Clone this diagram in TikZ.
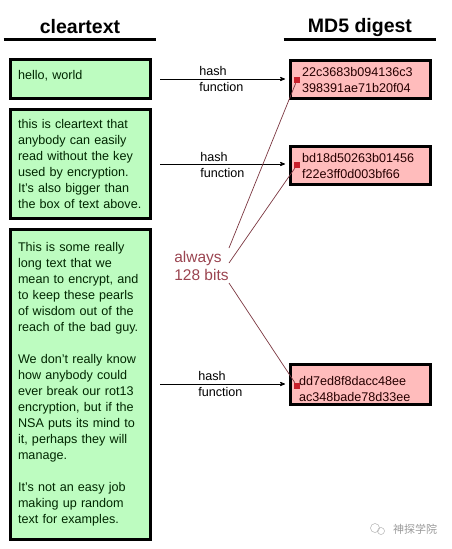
\documentclass[tikz,border=0pt]{standalone}
\usepackage{fontspec}
\setmainfont{Liberation Sans}
\newfontfamily\cjkfont{Noto Sans CJK SC}
\usetikzlibrary{arrows}
\usetikzlibrary{positioning}
\definecolor{cleargreen}{HTML}{BDFCC0}
\definecolor{digestpink}{HTML}{FFBCBC}
\definecolor{spotred}{HTML}{C8202C}
\definecolor{noterose}{HTML}{9A4450}
\tikzset{
    heading/.style={
           font=\bfseries\fontsize{19.5}{22}\selectfont,
           minimum width=152pt,
           minimum height=24pt,
           inner sep=0pt,
           },
    clearbox/.style={
           rectangle,
           draw=black, line width=3pt,
           fill=cleargreen,
           text=black!85!green,
           font=\fontsize{12.6}{16}\selectfont,
           text width=125pt,
           minimum width=140pt,
           inner sep=0pt,
           align=left,
           },
    digestbox/.style={
           clearbox,
           fill=digestpink,
           text=black!85!red,
           text width=117pt,
           minimum height=38pt,
           },
    hashlabel/.style={
           font=\fontsize{12.6}{16}\selectfont,
           align=left,
           inner sep=0pt,
           },
    redspot/.style={
           fill=spotred,
           minimum size=6pt,
           inner sep=0pt,
           },
}

\begin{document}
\begin{tikzpicture}[x=1pt,y=-1pt,>=stealth',semithick]
  \useasboundingbox (0,0) rectangle (451,549);

  \node[heading] (clearhead)                 at (80,27)  {cleartext};
  \node[heading] (digesthead)                at (360,27) {MD5 digest};
  \draw[line width=3pt] (clearhead.south west)  -- (clearhead.south east);
  \draw[line width=3pt] (digesthead.south west) -- (digesthead.south east);

  \node[clearbox,minimum height=39pt,text depth=9pt] (clearA) at (80.5,79) {hello, world};
  \node[clearbox,minimum height=109pt] (clearB) [below=8pt of clearA] {this is cleartext that\\
    anybody can easily\\ read without the key\\ used by encryption.\\
    It's also bigger than\\ the box of text above.};
  \node[clearbox,minimum height=310pt] (clearC) [below=8pt of clearB] {This is some really\\
    long text that we\\ mean to encrypt, and\\ to keep these pearls\\
    of wisdom out of the\\ reach of the bad guy.\\[16pt]
    We don't really know\\ how anybody could\\ ever break our rot13\\
    encryption, but if the\\ NSA puts its mind to\\ it, perhaps they will\\ manage.\\[16pt]
    It's not an easy job\\ making up random\\ text for examples.};

  \node[digestbox] (digestA) at (360.5,79.5) {22c3683b094136c3\\ 398391ae71b20f04};
  \node[digestbox] (digestB) [below=45pt of digestA]  {bd18d50263b01456\\ f22e3ff0d003bf66};
  \node[digestbox,minimum height=40pt,text width=123pt,text depth=7pt] (digestC) [below=177pt of digestB] {dd7ed8f8dacc48ee\\ ac348bade78d33ee};

  \coordinate (startA) at (160,79);
  \coordinate (startB) at (160,164);
  \coordinate (startC) at (160,384);
  \path[->,thick,shorten >=4pt] (startA) edge (startA -| digestA.west)
        (startB) edge (startB -| digestB.west)
        (startC) edge (startC -| digestC.west);

  \node[hashlabel,anchor=west] (hashA) at (199,79) {hash\\ function};
  \node[hashlabel,anchor=west] (hashB) at (200,165) {hash\\ function};
  \node[hashlabel,anchor=west] (hashC) at (198,384) {hash\\ function};

  \node[redspot] (spotA) at (297,80)  {};
  \node[redspot] (spotB) at (297,165) {};
  \node[redspot] (spotC) at (297,386) {};

  \node[text=noterose,font=\fontsize{15.5}{18}\selectfont,align=left,inner sep=0pt,anchor=west] (bits) at (174,266) {always\\ 128 bits};
  \coordinate (noteA) at (229,248);
  \coordinate (noteB) at (229,263);
  \coordinate (noteC) at (229,283);
  \draw[noterose!80!black,line width=0.7pt] (noteA) -- (spotA);
  \draw[noterose!80!black,line width=0.7pt] (noteB) -- (spotB);
  \draw[noterose!80!black,line width=0.7pt] (noteC) -- (spotC);

  \node[text=black!40,font=\cjkfont\fontsize{11}{13}\selectfont,inner sep=0pt] (mark) at (415,529) {神探学院};
  \draw[black!30,line width=0.5pt] (375,528) circle (4.5pt);
  \draw[black!30,line width=0.5pt] (381,531) circle (3.5pt);
\end{tikzpicture}
\end{document}
